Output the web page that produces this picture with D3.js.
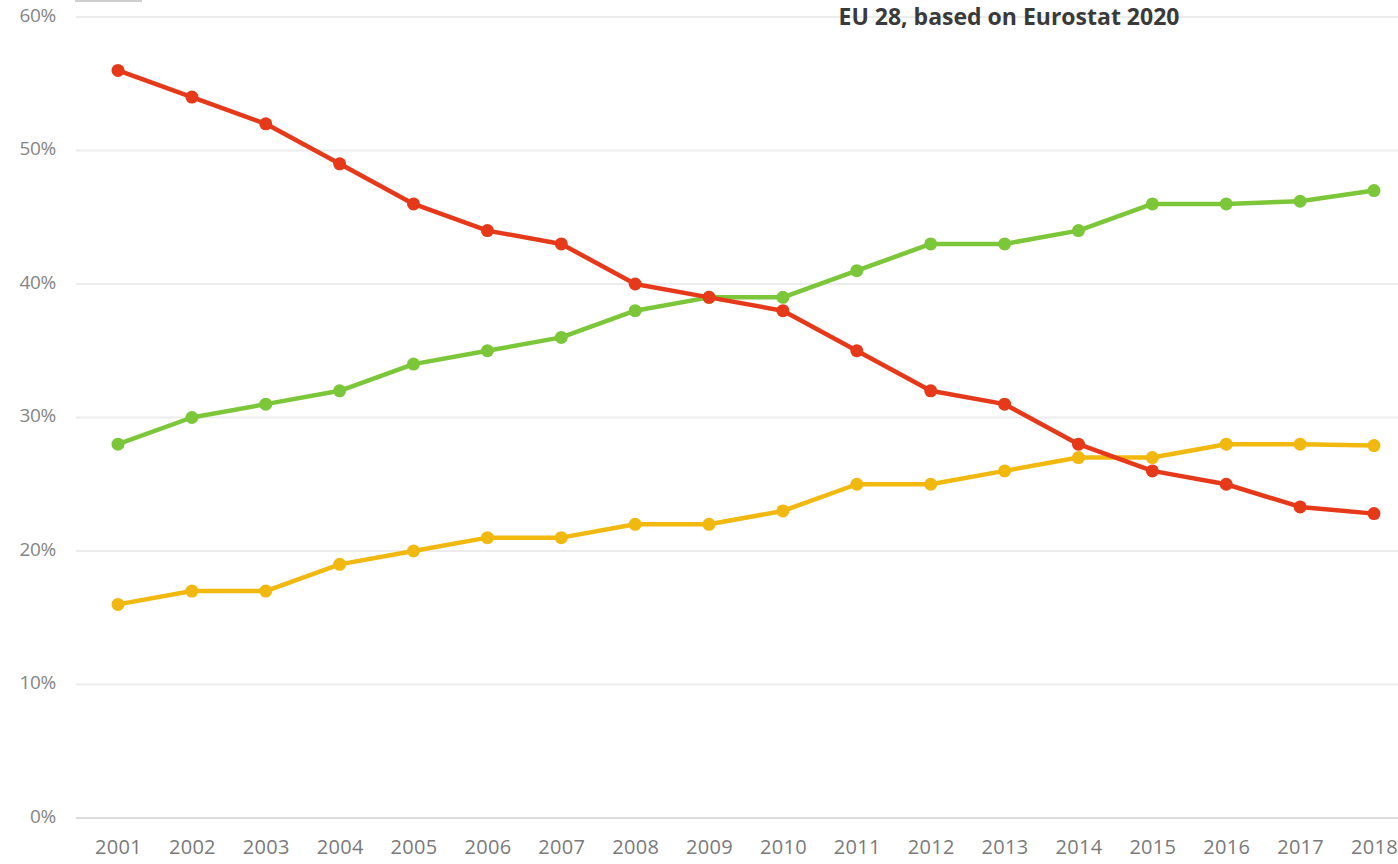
<!DOCTYPE html>
<html>
<head>
<meta charset="utf-8">
<script src="https://cdn.jsdelivr.net/npm/d3@7"></script>
<style>
  html, body { margin: 0; padding: 0; background: #fff; }
  svg { display: block; }
</style>
</head>
<body>
<svg id="chart" width="1398" height="864"></svg>
<script>
// Shares by year, EU 28 (percent)
const years = ["2001","2002","2003","2004","2005","2006","2007","2008","2009","2010","2011","2012","2013","2014","2015","2016","2017","2018"];
const redSeries    = [56, 54, 52, 49, 46, 44, 43, 40, 39, 38, 35, 32, 31, 28, 26, 25, 23.3, 22.8];
const greenSeries  = [28, 30, 31, 32, 34, 35, 36, 38, 39, 39, 41, 43, 43, 44, 46, 46, 46.2, 47];
const yellowSeries = [16, 17, 17, 19, 20, 21, 21, 22, 22, 23, 25, 25, 26, 27, 27, 28, 28, 27.9];
const yTicks = [0, 10, 20, 30, 40, 50, 60];
const title = "EU 28, based on Eurostat 2020";

const series = [
  { name: "green",  values: greenSeries,  color: "#7cc63a" },
  { name: "yellow", values: yellowSeries, color: "#f1b80f" },
  { name: "red",    values: redSeries,    color: "#e6391a" }
];

const svg = d3.select("#chart");
const W = 1398, H = 864;

const x = d3.scalePoint().domain(years).range([118, 1374]);
const y = d3.scaleLinear().domain([0, 60]).range([818, 17]);

// horizontal grid
svg.append("g")
  .selectAll("line")
  .data(yTicks)
  .join("line")
  .attr("x1", 76).attr("x2", W)
  .attr("y1", d => y(d)).attr("y2", d => y(d))
  .attr("stroke", d => d === 0 ? "#dcdcdc" : "#ececec")
  .attr("stroke-width", 2);

// y axis labels
const yAxis = d3.axisLeft(y).tickValues(yTicks).tickFormat(d => d + "%").tickSize(0).tickPadding(0);
const gy = svg.append("g").attr("transform", "translate(56,-2)").call(yAxis);
gy.select(".domain").remove();
gy.selectAll("text")
  .attr("font-family", "'Open Sans', sans-serif")
  .attr("font-size", 19)
  .attr("letter-spacing", -0.3)
  .attr("fill", "#858585");

// x axis labels
const xAxis = d3.axisBottom(x).tickSize(0).tickPadding(0);
const gx = svg.append("g").attr("transform", "translate(0,840)").call(xAxis);
gx.select(".domain").remove();
gx.selectAll("text")
  .attr("font-family", "'Open Sans', sans-serif")
  .attr("font-size", 20)
  .attr("letter-spacing", 0.3)
  .attr("fill", "#7a7a7a");

// small legend box edge at the top-left
svg.append("line")
  .attr("x1", 75).attr("x2", 142).attr("y1", 1).attr("y2", 1)
  .attr("stroke", "#cfcfcf").attr("stroke-width", 2);

// title
svg.append("text")
  .attr("x", 1009).attr("y", 25)
  .attr("text-anchor", "middle")
  .attr("font-family", "'Open Sans', sans-serif")
  .attr("font-weight", "bold")
  .attr("font-size", 23)
  .attr("fill", "#3a3a3a")
  .text(title);

// lines and markers
const line = d3.line()
  .x((d, i) => x(years[i]))
  .y(d => y(d));

const groups = svg.append("g")
  .selectAll("g")
  .data(series)
  .join("g");

groups.append("path")
  .attr("d", d => line(d.values))
  .attr("fill", "none")
  .attr("stroke", d => d.color)
  .attr("stroke-width", 4.5)
  .attr("stroke-linejoin", "round");

groups.selectAll("circle")
  .data(d => d.values.map((v, i) => ({ v, i, color: d.color })))
  .join("circle")
  .attr("cx", d => x(years[d.i]))
  .attr("cy", d => y(d.v))
  .attr("r", 6.5)
  .attr("fill", d => d.color);
</script>
</body>
</html>
